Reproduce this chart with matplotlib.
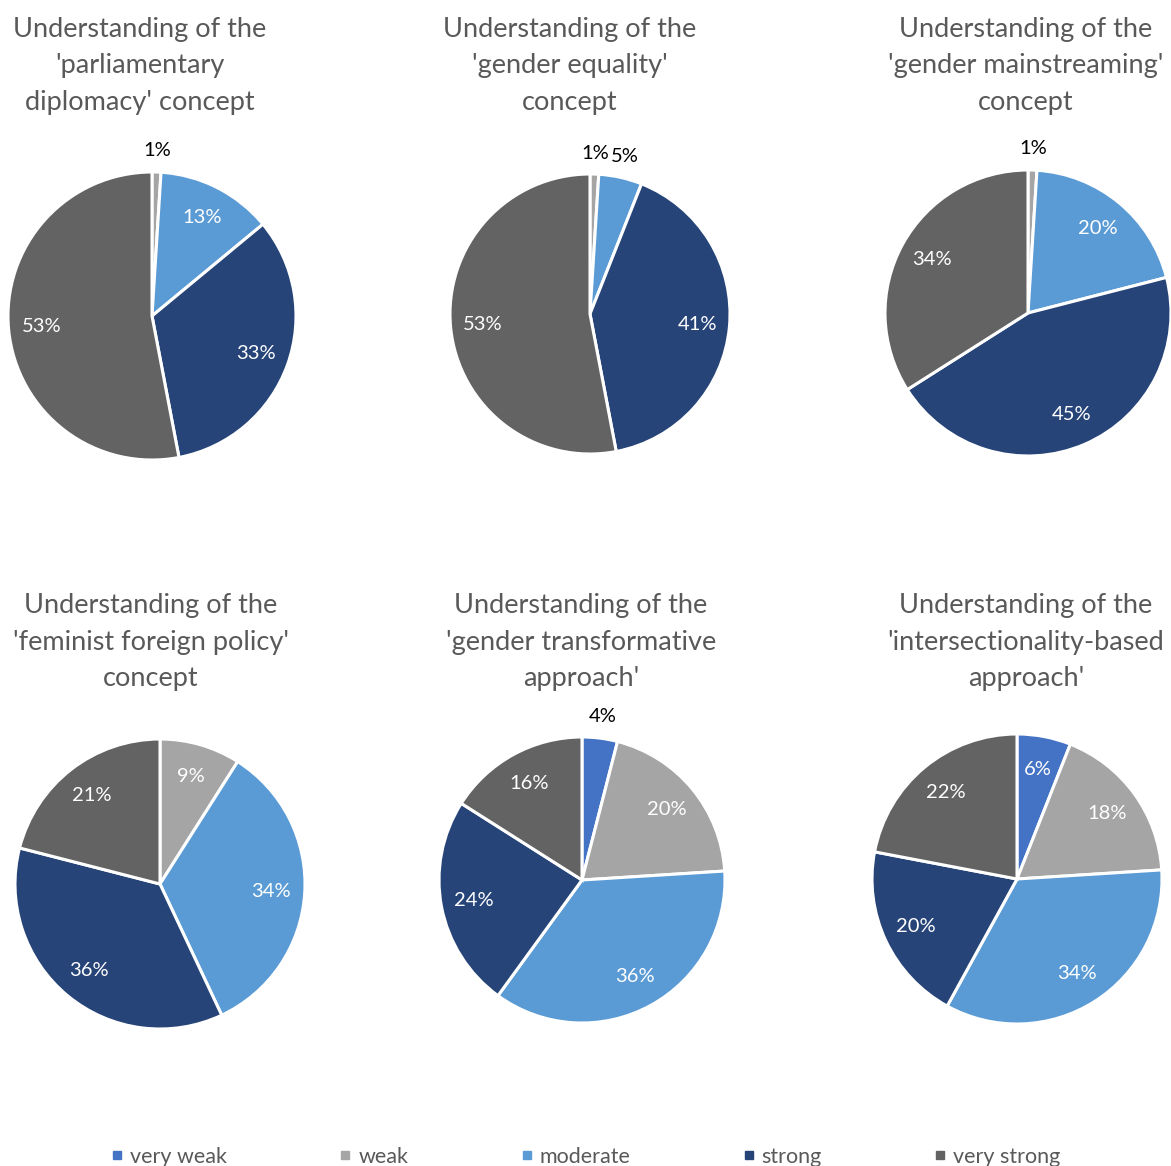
import matplotlib.pyplot as plt
from matplotlib.lines import Line2D
import numpy as np

plt.rcParams["font.family"] = ["Lato", "DejaVu Sans"]

# --- dane ---
categories = ["very weak", "weak", "moderate", "strong", "very strong"]
colors = ["#4472C4", "#A5A5A5", "#5B9BD5", "#264478", "#636363"]

titles = [
    "Understanding of the\n'parliamentary\ndiplomacy' concept",
    "Understanding of the\n'gender equality'\nconcept",
    "Understanding of the\n'gender mainstreaming'\nconcept",
    "Understanding of the\n'feminist foreign policy'\nconcept",
    "Understanding of the\n'gender transformative\napproach'",
    "Understanding of the\n'intersectionality-based\napproach'",
]

parliamentary_diplomacy = [0, 1, 13, 33, 53]
gender_equality = [0, 1, 5, 41, 53]
gender_mainstreaming = [0, 1, 20, 45, 34]
feminist_foreign_policy = [0, 9, 34, 36, 21]
gender_transformative = [4, 20, 36, 24, 16]
intersectionality = [6, 18, 34, 20, 22]

all_values = [parliamentary_diplomacy, gender_equality, gender_mainstreaming,
              feminist_foreign_policy, gender_transformative, intersectionality]

# --- uklad (piksele) ---
W, H = 1171, 1166
pie_centers = [(152, 316), (590, 314), (1028, 313), (160, 884), (582, 880), (1017, 879)]
pie_radius = [144, 140, 143, 145, 143, 145]
title_x = [140, 570, 1026, 151, 581, 1026]
title_y = [66, 66, 66, 642, 642, 642]

fig = plt.figure(figsize=(W / 100, H / 100), dpi=100)

for i, vals in enumerate(all_values):
    cx, cy = pie_centers[i]
    r = pie_radius[i]
    ax = fig.add_axes([(cx - r) / W, 1 - (cy + r) / H, 2 * r / W, 2 * r / H])
    wedges, _ = ax.pie(vals, colors=colors, startangle=90, counterclock=False,
                       wedgeprops=dict(edgecolor="white", linewidth=2.2))
    ax.set_xlim(-1, 1)
    ax.set_ylim(-1, 1)
    ax.axis("off")
    for w, v in zip(wedges, vals):
        if v == 0:
            continue
        ang = np.deg2rad((w.theta1 + w.theta2) / 2)
        if v <= 5:
            d, col = 1.15, "black"
        else:
            d, col = 0.77, "white"
        ax.text(d * np.cos(ang), d * np.sin(ang), f"{v}%", ha="center", va="center",
                fontsize=14.5, color=col, clip_on=False)
    fig.text(title_x[i] / W, 1 - title_y[i] / H, titles[i], ha="center", va="center",
             fontsize=19.5, color="#595959", linespacing=1.58)

handles = [Line2D([], [], marker="s", linestyle="none", markersize=6, color=c) for c in colors]
fig.legend(handles, categories, loc="center", bbox_to_anchor=(0.5, 1 - 1157 / H), ncol=5,
           frameon=False, fontsize=15.5, labelcolor="#595959", handlelength=0.6,
           handletextpad=0.3, columnspacing=5.2)

fig.savefig("out.png", dpi=100)
